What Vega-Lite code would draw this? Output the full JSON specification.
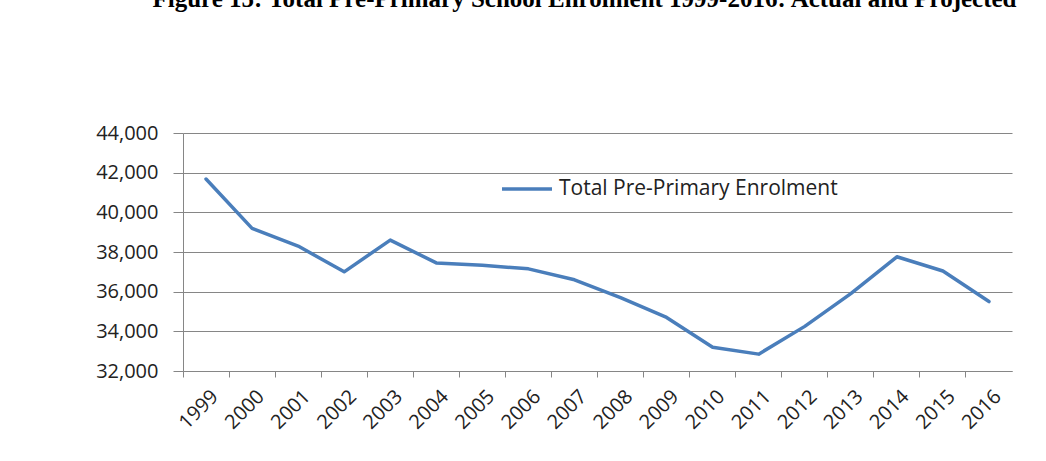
{
  "$schema": "https://vega.github.io/schema/vega-lite/v6.json",
  "width": 829,
  "height": 238,
  "autosize": {"type": "none"},
  "padding": {"left": 183, "top": 133, "right": 34, "bottom": 90},
  "background": "white",
  "title": {
    "text": "Figure 15: Total Pre-Primary School Enrolment 1999-2016: Actual and Projected",
    "font": "Liberation Serif",
    "fontSize": 25,
    "fontWeight": "bold",
    "color": "black",
    "anchor": "middle",
    "frame": "group",
    "baseline": "alphabetic",
    "offset": 91,
    "dx": -13
  },
  "data": {
    "values": [
      {"year": "1999", "enrolment": 41680},
      {"year": "2000", "enrolment": 39190},
      {"year": "2001", "enrolment": 38300},
      {"year": "2002", "enrolment": 37000},
      {"year": "2003", "enrolment": 38600},
      {"year": "2004", "enrolment": 37450},
      {"year": "2005", "enrolment": 37330},
      {"year": "2006", "enrolment": 37150},
      {"year": "2007", "enrolment": 36600},
      {"year": "2008", "enrolment": 35700},
      {"year": "2009", "enrolment": 34700},
      {"year": "2010", "enrolment": 33200},
      {"year": "2011", "enrolment": 32850},
      {"year": "2012", "enrolment": 34250},
      {"year": "2013", "enrolment": 35900},
      {"year": "2014", "enrolment": 37760},
      {"year": "2015", "enrolment": 37040},
      {"year": "2016", "enrolment": 35500}
    ]
  },
  "mark": {"type": "line", "strokeWidth": 3.5, "strokeCap": "round", "strokeJoin": "round"},
  "encoding": {
    "x": {
      "field": "year",
      "type": "ordinal",
      "scale": {"type": "band", "paddingInner": 0, "paddingOuter": 0},
      "axis": {
        "title": null,
        "labelAngle": -45,
        "labelFont": "Open Sans",
        "labelFontSize": 20,
        "labelColor": "#222222",
        "labelPadding": 9,
        "labelOffset": 2,
        "bandPosition": 0,
        "tickSize": 6,
        "tickColor": "#868686",
        "domainColor": "#868686",
        "grid": false
      }
    },
    "y": {
      "field": "enrolment",
      "type": "quantitative",
      "scale": {"domain": [32000, 44000], "nice": false, "zero": false},
      "axis": {
        "title": null,
        "values": [32000, 34000, 36000, 38000, 40000, 42000, 44000],
        "format": ",.0f",
        "labelFont": "Open Sans",
        "labelFontSize": 20,
        "labelColor": "#222222",
        "labelPadding": 15,
        "tickSize": 10,
        "tickColor": "#868686",
        "domainColor": "#868686",
        "grid": true,
        "gridColor": "#868686"
      }
    },
    "color": {
      "datum": "Total Pre-Primary Enrolment",
      "type": "nominal",
      "scale": {"range": ["#4A7EBB"]},
      "legend": {
        "title": null,
        "orient": "none",
        "legendX": 317,
        "legendY": 29,
        "symbolType": "stroke",
        "symbolSize": 2500,
        "symbolStrokeWidth": 3.5,
        "labelFont": "Open Sans",
        "labelFontSize": 21,
        "labelColor": "#222222",
        "labelOffset": 5,
        "labelLimit": 0
      }
    }
  },
  "config": {"view": {"stroke": null}}
}
